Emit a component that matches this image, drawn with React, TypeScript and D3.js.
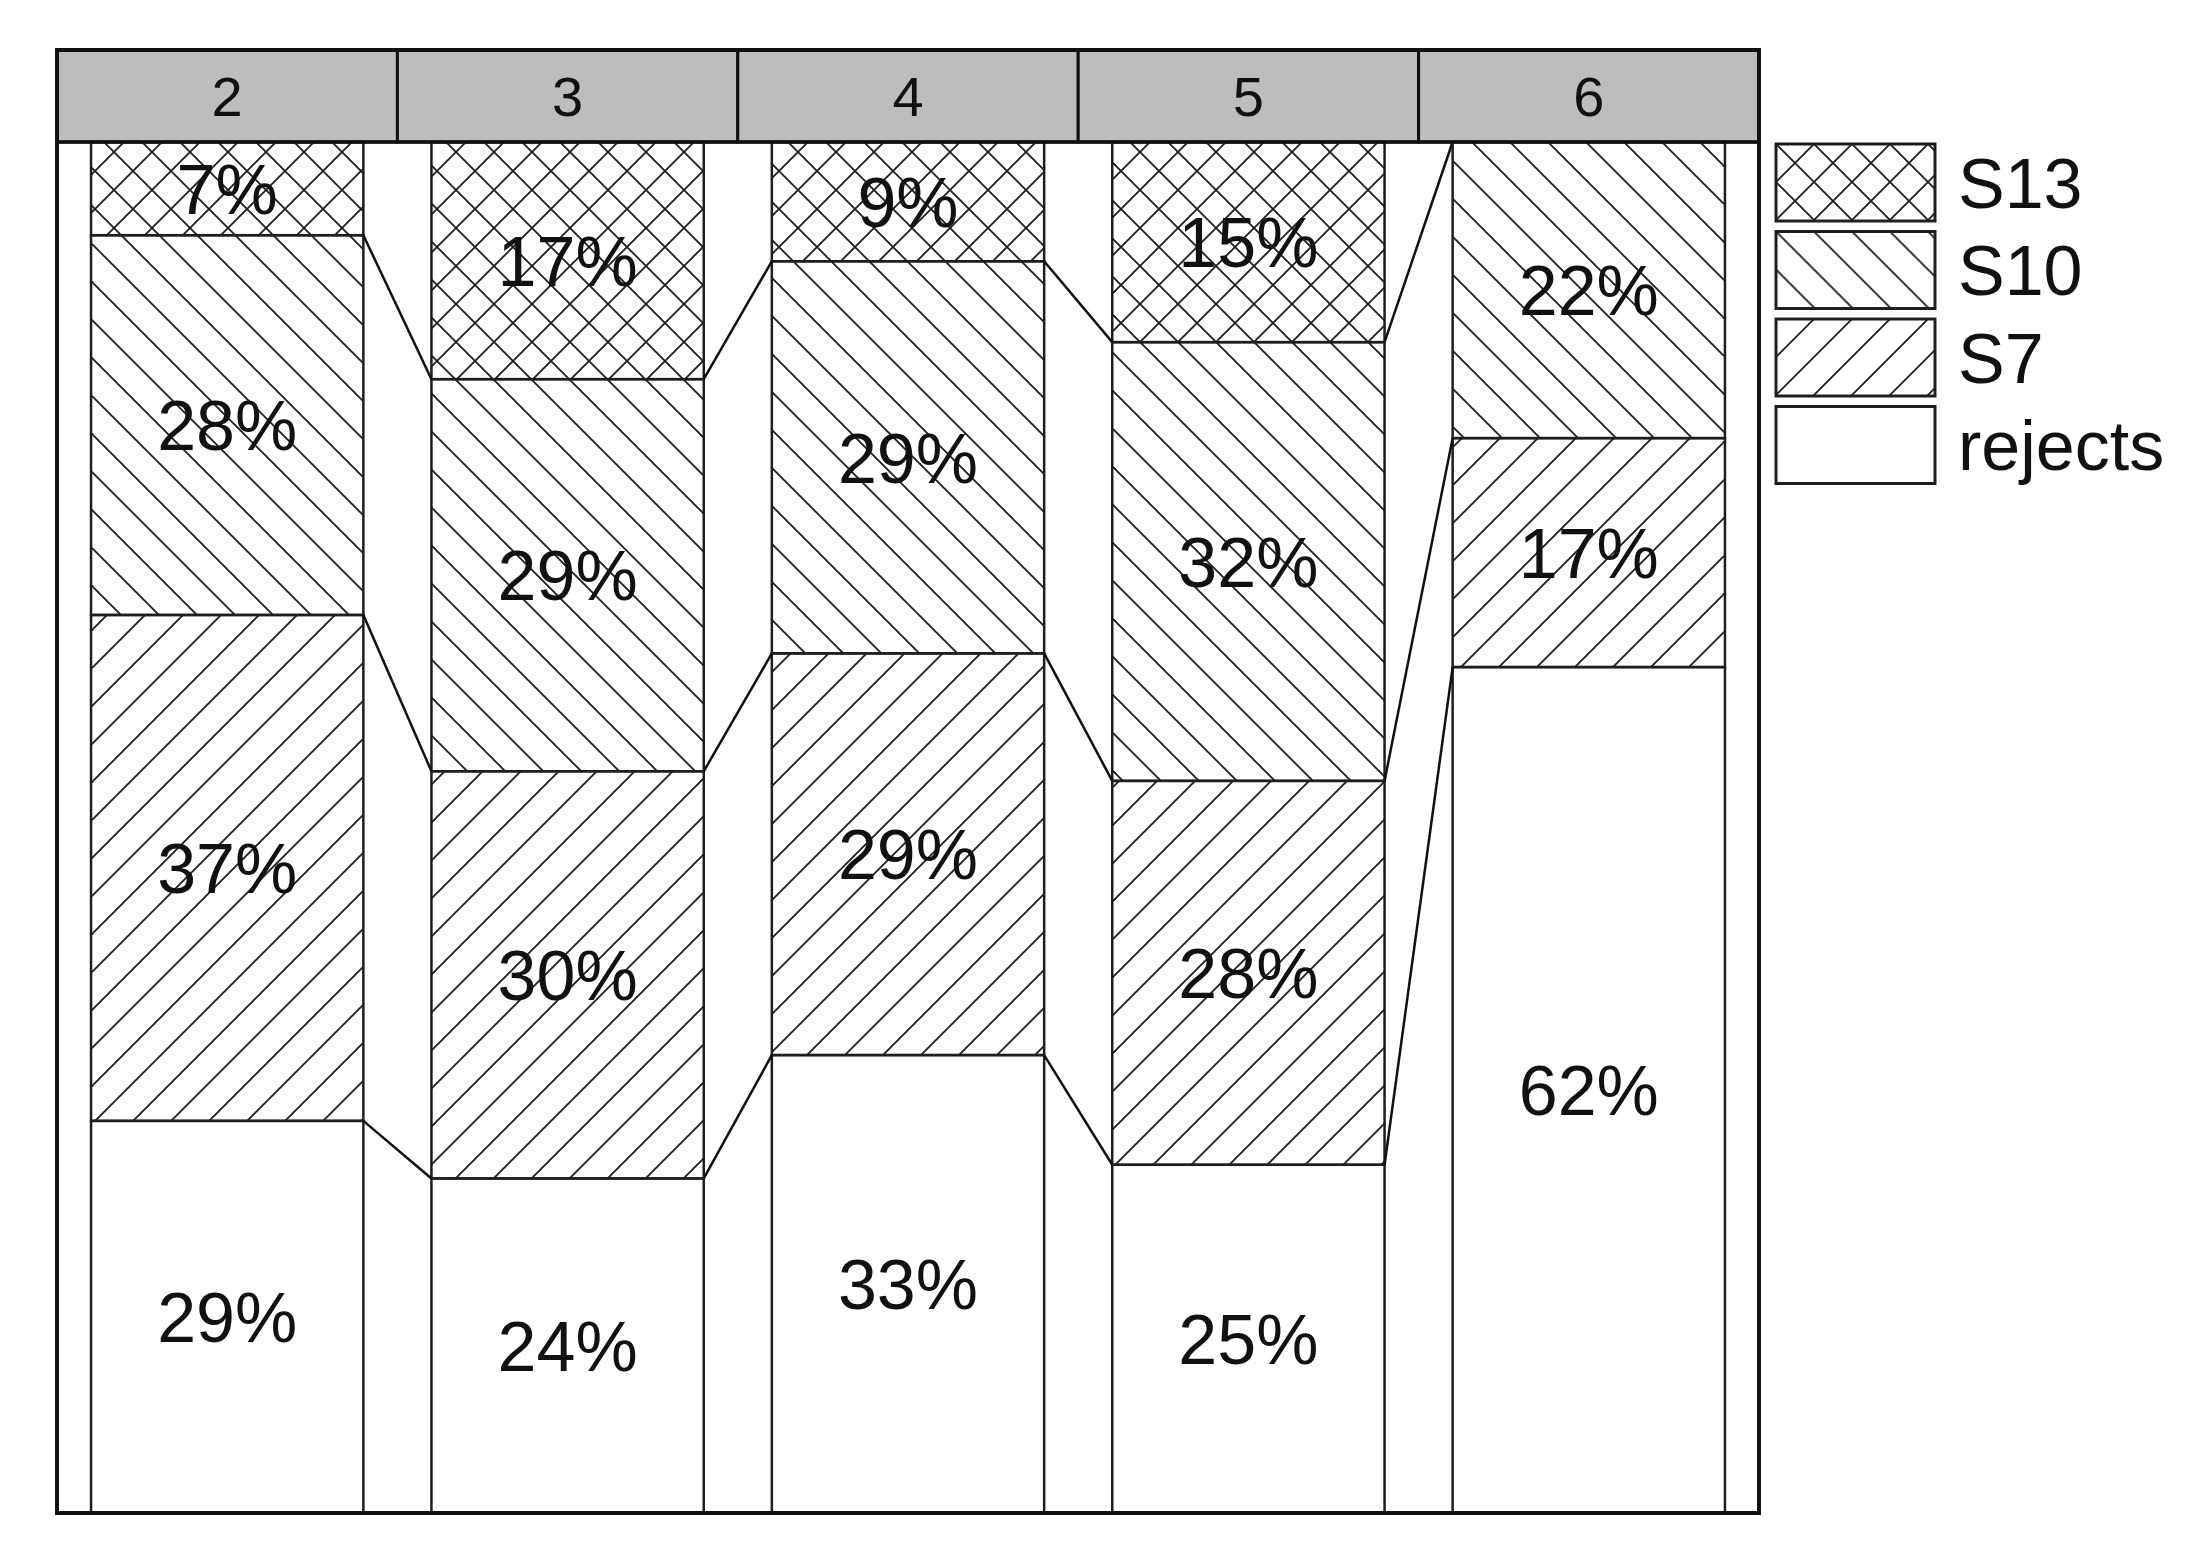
import * as d3 from 'd3'

const groups = ['2', '3', '4', '5', '6']
const seriesKeys = ['rejects', 'S7', 'S10', 'S13']
const legendOrder = ['S13', 'S10', 'S7', 'rejects']

// shares in percent (bottom to top)
const rejects = [28.6, 24.4, 33.4, 25.4, 61.7]
const s7 = [36.9, 29.7, 29.3, 28.0, 16.7]
const s10 = [27.7, 28.6, 28.6, 32.0, 21.6]
const s13 = [6.8, 17.3, 8.7, 14.6, 0]

const W = 2193
const H = 1558
const frame = { left: 57, right: 1759, top: 50, header: 142, bottom: 1513 }
const FONT = '"Liberation Sans", Arial, Helvetica, sans-serif'
const INK = '#1e1e1e'

const fills: Record<string, string> = {
    rejects: '#ffffff',
    S7: 'url(#hatch-s7)',
    S10: 'url(#hatch-s10)',
    S13: 'url(#hatch-s13)',
}

export default function App() {
    const rows = groups.map((g, i) => ({
        group: g,
        rejects: rejects[i],
        S7: s7[i],
        S10: s10[i],
        S13: s13[i],
    }))
    const stacked = d3.stack<any>().keys(seriesKeys)(rows)

    const panel = d3.scaleBand().domain(groups).range([frame.left, frame.right]).padding(0)
    const bar = d3.scaleBand().domain(groups).range([frame.left, frame.right])
        .paddingInner(0.2).paddingOuter(0.1)
    const y = d3.scaleLinear().domain([0, 100]).range([frame.bottom, frame.header])
    const bw = bar.bandwidth()

    // boundaries between neighbouring bars (top of rejects, S7, S10)
    const connectors: { x1: number; y1: number; x2: number; y2: number }[] = []
    stacked.slice(0, 3).forEach(layer => {
        for (let i = 0; i < groups.length - 1; i++) {
            connectors.push({
                x1: (bar(groups[i]) as number) + bw,
                y1: y(layer[i][1]),
                x2: bar(groups[i + 1]) as number,
                y2: y(layer[i + 1][1]),
            })
        }
    })

    const legendX = 1776
    const legendTop = 144
    const legendStep = 87.5
    const legendBoxW = 159
    const legendBoxH = 77

    return (
        <div style={{ position: 'absolute', left: 0, top: 0 }}>
            <svg width={W} height={H} style={{ display: 'block', background: '#fff' }}>
                <defs>
                    <pattern id="hatch-s10" patternUnits="userSpaceOnUse" width={38} height={38}>
                        <path d="M0,0L38,38M-10,28L10,48M28,-10L48,10" stroke={INK} strokeWidth={1.8} />
                    </pattern>
                    <pattern id="hatch-s7" patternUnits="userSpaceOnUse" width={38} height={38}>
                        <path d="M0,38L38,0M-10,10L10,-10M28,48L48,28" stroke={INK} strokeWidth={1.8} />
                    </pattern>
                    <pattern id="hatch-s13" patternUnits="userSpaceOnUse" width={38} height={38}>
                        <path d="M0,0L38,38M-10,28L10,48M28,-10L48,10M0,38L38,0M-10,10L10,-10M28,48L48,28"
                            stroke={INK} strokeWidth={1.8} />
                    </pattern>
                </defs>

                {/* header strip */}
                {groups.map(g => (
                    <g key={'h' + g}>
                        <rect x={panel(g)} y={frame.top} width={panel.bandwidth()} height={frame.header - frame.top}
                            fill="#bdbdbd" stroke="#111" strokeWidth={3} />
                        <text x={(panel(g) as number) + panel.bandwidth() / 2} y={116} textAnchor="middle"
                            fontFamily={FONT} fontSize={56} fill="#111">{g}</text>
                    </g>
                ))}

                {/* stacked segments */}
                {stacked.map(layer => (
                    <g key={layer.key}>
                        {layer.map((d, i) => {
                            const v = d[1] - d[0]
                            if (v <= 0) return null
                            return (
                                <rect key={i} x={bar(groups[i])} y={y(d[1])} width={bw} height={y(d[0]) - y(d[1])}
                                    fill={fills[layer.key]} stroke={INK} strokeWidth={2.5} />
                            )
                        })}
                    </g>
                ))}

                {/* connector lines */}
                {connectors.map((c, i) => (
                    <line key={'c' + i} x1={c.x1} y1={c.y1} x2={c.x2} y2={c.y2} stroke="#111" strokeWidth={2.5} />
                ))}

                {/* labels */}
                {stacked.map(layer => layer.map((d, i) => {
                    const v = d[1] - d[0]
                    if (v <= 0) return null
                    return (
                        <text key={layer.key + i} x={(bar(groups[i]) as number) + bw / 2} y={y((d[0] + d[1]) / 2)}
                            dy="0.36em" textAnchor="middle" fontFamily={FONT} fontSize={70} fill="#111">
                            {Math.round(v) + '%'}
                        </text>
                    )
                }))}

                {/* outer frame */}
                <rect x={frame.left} y={frame.top} width={frame.right - frame.left} height={frame.bottom - frame.top}
                    fill="none" stroke="#111" strokeWidth={4} />
                <line x1={frame.left} x2={frame.right} y1={frame.header} y2={frame.header} stroke="#111" strokeWidth={3.5} />

                {/* legend */}
                {legendOrder.map((k, i) => (
                    <g key={'l' + k} transform={`translate(${legendX},${legendTop + i * legendStep})`}>
                        <rect width={legendBoxW} height={legendBoxH} fill={fills[k]} stroke={INK} strokeWidth={3} />
                        <text x={182} y={legendBoxH / 2} dy="0.36em" fontFamily={FONT} fontSize={70} fill="#111">{k}</text>
                    </g>
                ))}
            </svg>
        </div>
    )
}
